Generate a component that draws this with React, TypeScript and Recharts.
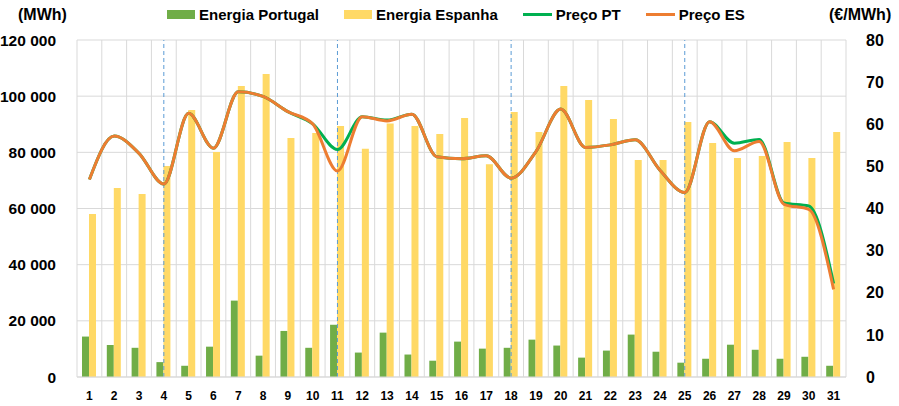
import React from "react";
import {
  ComposedChart,
  Bar,
  Line,
  XAxis,
  YAxis,
  CartesianGrid,
  ReferenceLine,
} from "recharts";

// dias do mês
const dias = [
  "1", "2", "3", "4", "5", "6", "7", "8", "9", "10", "11", "12", "13", "14", "15", "16",
  "17", "18", "19", "20", "21", "22", "23", "24", "25", "26", "27", "28", "29", "30", "31",
];

// domingos (linhas tracejadas)
const domingos = ["4", "11", "18", "25"];

// energia (MWh)
const energiaPortugal = [
  14400, 11400, 10400, 5300, 4000, 10800, 27200, 7600, 16400, 10400, 18600, 8700, 15800, 8000, 5800, 12600,
  10100, 10400, 13300, 11200, 6900, 9400, 15100, 9000, 5100, 6500, 11500, 9700, 6500, 7200, 4000,
];
const energiaEspanha = [
  58000, 67300, 65200, 75100, 95100, 80100, 103600, 107900, 85100, 86900, 89400, 81300, 90300, 89400, 86500, 92200,
  75800, 94400, 87200, 103600, 98600, 91900, 77300, 77300, 90800, 83300, 78000, 78700, 83700, 78000, 87200,
];

// preços (€/MWh)
const precoPT = [
  46.9, 57.2, 53.1, 45.8, 62.6, 54.3, 67.7, 66.6, 63.0, 60.1, 54.0, 61.8, 61.0, 62.4, 52.3, 51.8,
  52.5, 47.2, 53.5, 63.6, 54.5, 55.1, 56.3, 49.1, 43.8, 60.6, 55.5, 56.4, 41.3, 40.6, 22.2,
];
const precoES = [
  46.9, 57.2, 53.1, 45.8, 62.6, 54.3, 67.7, 66.6, 63.0, 60.1, 48.9, 61.8, 60.8, 62.4, 52.3, 51.8,
  52.5, 47.2, 53.5, 63.6, 54.5, 55.1, 56.3, 49.1, 43.8, 60.6, 53.7, 55.9, 41.0, 39.8, 20.8,
];

const ticksEnergia = [0, 20000, 40000, 60000, 80000, 100000, 120000];
const ticksPreco = [0, 10, 20, 30, 40, 50, 60, 70, 80];

const data = dias.map((dia, i) => ({
  dia,
  pt: energiaPortugal[i],
  es: energiaEspanha[i],
  precoPT: precoPT[i],
  precoES: precoES[i],
}));

const legenda = [
  { nome: "Energia Portugal", cor: "#70AD47", tipo: "rect" },
  { nome: "Energia Espanha", cor: "#FFD966", tipo: "rect" },
  { nome: "Preço PT", cor: "#00B050", tipo: "line" },
  { nome: "Preço ES", cor: "#ED7D31", tipo: "line" },
];

const FONT = '"Liberation Sans", Arial, sans-serif';

const formatMWh = (v: number) => v.toString().replace(/\B(?=(\d{3})+(?!\d))/g, " ");

const Legenda = () => (
  <div style={{ position: "absolute", left: 0, top: 0, width: 899, height: 32, fontFamily: FONT }}>
    <span style={{ position: "absolute", left: 18, top: 6, fontSize: 16, fontWeight: "bold", color: "#000" }}>
      (MWh)
    </span>
    <span style={{ position: "absolute", left: 829, top: 6, fontSize: 16, fontWeight: "bold", color: "#000" }}>
      (€/MWh)
    </span>
    <div style={{ position: "absolute", left: 167, top: 6, display: "flex", alignItems: "center" }}>
      {legenda.map((item) => (
        <div key={item.nome} style={{ display: "flex", alignItems: "center", marginRight: 25 }}>
          {item.tipo === "line" ? (
            <div style={{ width: 29, height: 3, background: item.cor }} />
          ) : (
            <div style={{ width: 28, height: 9, background: item.cor }} />
          )}
          <span style={{ marginLeft: 4, fontSize: 15, fontWeight: "bold", color: "#000" }}>{item.nome}</span>
        </div>
      ))}
    </div>
  </div>
);

export default function App() {
  return (
    <div style={{ position: "absolute", left: 0, top: 0, width: 899, height: 406, background: "#fff" }}>
      <ComposedChart
        width={899}
        height={406}
        data={data}
        margin={{ top: 40, right: 0, bottom: 0, left: 0 }}
        barGap={0}
      >
        <CartesianGrid
          yAxisId="left"
          stroke="#D9D9D9"
          verticalCoordinatesGenerator={({ offset }: any) =>
            Array.from({ length: dias.length + 1 }, (_, i) => offset.left + (i * offset.width) / dias.length)
          }
        />
        <XAxis
          dataKey="dia"
          height={29}
          interval={0}
          axisLine={{ stroke: "#D9D9D9" }}
          tickLine={false}
          tickMargin={8}
          tick={{ fontSize: 12, fontWeight: "bold", fill: "#000", fontFamily: FONT }}
        />
        <YAxis
          yAxisId="left"
          width={77}
          domain={[0, 120000]}
          ticks={ticksEnergia}
          tickFormatter={formatMWh}
          axisLine={false}
          tickLine={false}
          tickMargin={15}
          tick={{ fontSize: 15.5, fontWeight: "bold", fill: "#000", fontFamily: FONT }}
        />
        <YAxis
          yAxisId="right"
          orientation="right"
          width={53}
          domain={[0, 80]}
          ticks={ticksPreco}
          axisLine={false}
          tickLine={false}
          tickMargin={14}
          tick={{ fontSize: 16, fontWeight: "bold", fill: "#000", fontFamily: FONT, textAnchor: "start" }}
        />
        {domingos.map((d) => (
          <ReferenceLine key={d} x={d} yAxisId="left" stroke="#5B9BD5" strokeDasharray="4 3" />
        ))}
        <Bar yAxisId="left" dataKey="pt" name="Energia Portugal" fill="#70AD47" barSize={7} isAnimationActive={false} />
        <Bar yAxisId="left" dataKey="es" name="Energia Espanha" fill="#FFD966" barSize={7} isAnimationActive={false} />
        <Line
          yAxisId="right"
          type="monotone"
          dataKey="precoPT"
          name="Preço PT"
          stroke="#00B050"
          strokeWidth={3}
          dot={false}
          isAnimationActive={false}
        />
        <Line
          yAxisId="right"
          type="monotone"
          dataKey="precoES"
          name="Preço ES"
          stroke="#ED7D31"
          strokeWidth={3}
          dot={false}
          isAnimationActive={false}
        />
      </ComposedChart>
      <Legenda />
    </div>
  );
}
